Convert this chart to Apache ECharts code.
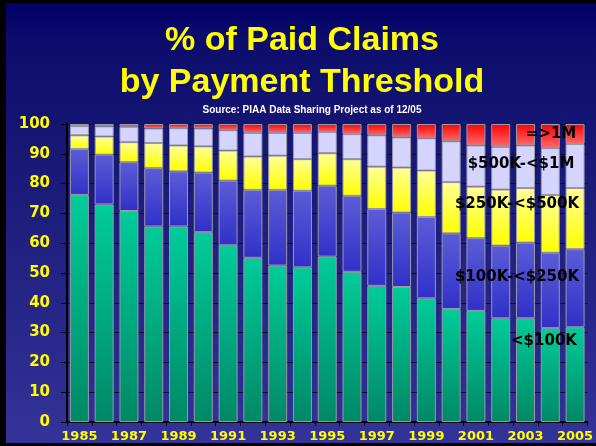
<!DOCTYPE html>
<html>
<head>
<meta charset="UTF-8">
<title>Paid Claims by Payment Threshold</title>
<script type="text/javascript" src="https://cdn.jsdelivr.net/npm/echarts@6/dist/echarts.min.js"></script>
<style>
  body{margin:0;padding:0;background:#000}
  #wrap{position:relative;width:596px;height:446px;background:#000;overflow:hidden}
  #bg{position:absolute;left:6px;top:3px;width:590px;height:440px;
      background:linear-gradient(#000066 0%,#0c0c6c 8%,#1a1a78 40%,#333399 100%)}
  #main{position:absolute;left:0;top:0;width:596px;height:446px}
</style>
</head>
<body>
<div id="wrap">
  <div id="bg"></div>
  <div id="main"></div>
</div>
<script type="text/javascript">
// years on the x axis
var years = ['1985','1986','1987','1988','1989','1990','1991','1992','1993','1994',
             '1995','1996','1997','1998','1999','2000','2001','2002','2003','2004','2005'];

// share of paid claims (%) per payment band
var under100k = [76.2, 73.0, 70.8, 65.6, 65.6, 63.7, 59.3, 55.1, 52.5, 51.9, 55.5, 50.4, 45.7, 45.3, 41.5, 37.9, 37.3, 34.8, 34.8, 31.5, 31.8];
var k100to250 = [15.4, 16.7, 16.4, 19.6, 18.5, 20.0, 21.7, 22.8, 25.4, 25.7, 23.8, 25.5, 25.8, 25.0, 27.3, 25.4, 24.4, 24.4, 25.4, 25.3, 26.2];
var k250to500 = [4.6, 6.1, 6.7, 8.4, 8.7, 8.8, 10.1, 11.2, 11.5, 10.6, 10.9, 12.3, 14.2, 15.1, 15.6, 17.2, 17.3, 18.8, 18.3, 19.4, 20.5];
var k500to1m  = [3.1, 3.4, 5.2, 4.9, 5.8, 6.0, 6.8, 7.9, 7.6, 8.8, 7.1, 8.4, 10.5, 10.1, 10.8, 13.7, 13.8, 14.3, 14.3, 15.7, 14.8];
var over1m    = [0.7, 0.8, 0.9, 1.5, 1.4, 1.5, 2.1, 3.0, 3.0, 3.0, 2.7, 3.4, 3.8, 4.5, 4.8, 5.8, 7.2, 7.7, 7.2, 8.1, 6.7];

var bandNames = ['<$100K', '$100K-<$250K', '$250K-<$500K', '$500K-<$1M', '=>1M'];

function grad(top, bottom) {
  return new echarts.graphic.LinearGradient(0, 0, 0, 1, [
    {offset: 0, color: top}, {offset: 1, color: bottom}
  ]);
}

function band(name, data, fill) {
  return {
    name: name,
    type: 'bar',
    stack: 'all',
    barWidth: 19,
    data: data,
    itemStyle: {color: fill, borderColor: '#9a9aa8', borderWidth: 1}
  };
}

var myChart = echarts.init(document.getElementById('main'), null, {renderer: 'canvas'});

var labelFont = {fill: '#000', font: 'bold 15px "DejaVu Sans"', align: 'center', verticalAlign: 'middle'};

var option = {
  backgroundColor: 'transparent',
  animation: false,
  title: [{
    text: '% of Paid Claims\nby Payment Threshold',
    left: 302, top: 20, padding: 0,
    textAlign: 'center',
    textStyle: {color: '#ffff00', fontFamily: 'Liberation Sans', fontWeight: 'bold', fontSize: 34, lineHeight: 42}
  }, {
    text: 'Source: PIAA Data Sharing Project as of 12/05',
    left: 312, top: 105, padding: 0,
    textAlign: 'center',
    textStyle: {color: '#ffffff', fontFamily: 'Liberation Sans', fontWeight: 'bold', fontSize: 10}
  }],
  grid: {left: 67, right: 2, top: 124, bottom: 24, containLabel: false},
  xAxis: {
    type: 'category',
    data: years,
    axisLine: {lineStyle: {color: '#000', width: 2}},
    axisTick: {show: true, interval: 0, length: 4, lineStyle: {color: '#000'}},
    axisLabel: {interval: 1, margin: 8, color: '#ffff00', fontFamily: 'DejaVu Sans', fontWeight: 'bold', fontSize: 13}
  },
  yAxis: {
    type: 'value',
    min: 0, max: 100, interval: 10,
    axisLine: {show: true, lineStyle: {color: '#000', width: 2}},
    axisTick: {show: true, length: 6, lineStyle: {color: '#000'}},
    axisLabel: {margin: 17, color: '#ffff00', fontFamily: 'DejaVu Sans', fontWeight: 'bold', fontSize: 15},
    splitLine: {show: true, lineStyle: {color: '#0d0d45', width: 1}}
  },
  series: [
    band(bandNames[0], under100k, grad('#00cc99', '#008866')),
    band(bandNames[1], k100to250, grad('#5c5cd8', '#3030c8')),
    band(bandNames[2], k250to500, grad('#ffff99', '#ffff00')),
    band(bandNames[3], k500to1m, '#d4d4ff'),
    band(bandNames[4], over1m, grad('#ff0000', '#ff6a6a'))
  ],
  graphic: [
    {type: 'text', x: 551, y: 134, style: Object.assign({text: bandNames[4]}, labelFont), z: 10},
    {type: 'text', x: 521, y: 164, style: Object.assign({text: bandNames[3]}, labelFont), z: 10},
    {type: 'text', x: 517, y: 204, style: Object.assign({text: bandNames[2]}, labelFont), z: 10},
    {type: 'text', x: 517, y: 277, style: Object.assign({text: bandNames[1]}, labelFont), z: 10},
    {type: 'text', x: 544, y: 341, style: Object.assign({text: bandNames[0]}, labelFont), z: 10}
  ]
};

myChart.setOption(option);
</script>
</body>
</html>
